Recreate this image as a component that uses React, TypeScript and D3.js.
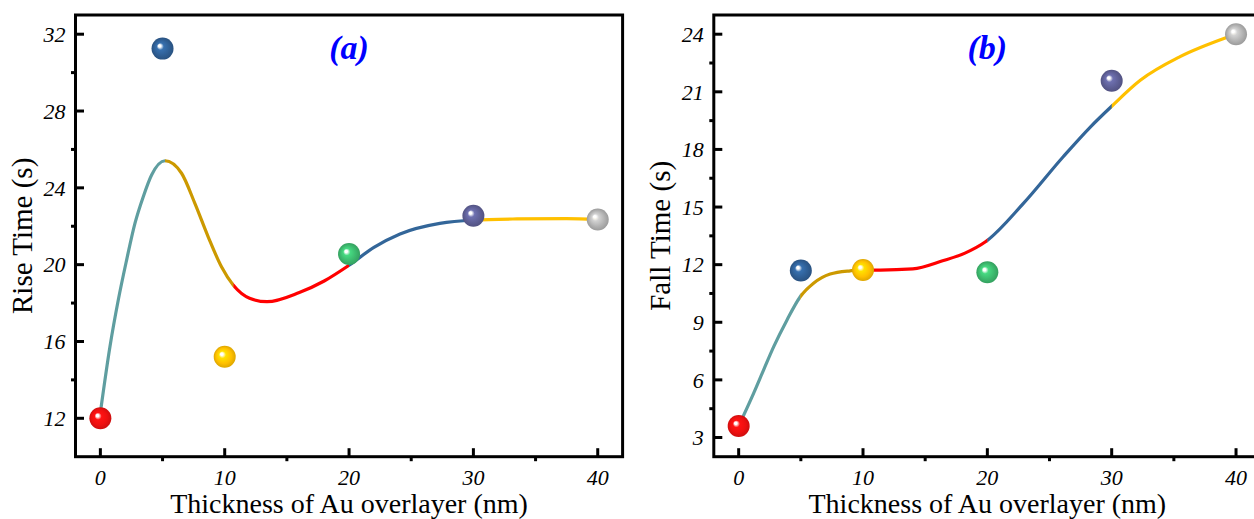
import React from "react";
import * as d3 from "d3";

// ---------- data ----------
const thickness = [0, 5, 10, 20, 30, 40];
const riseTime = [12.0, 31.25, 15.2, 20.55, 22.55, 22.35];
const fallTime = [3.6, 11.7, 11.72, 11.6, 21.58, 24.0];
const ballColors = ["#ee1010", "#2f5f95", "#ffc000", "#3cb96e", "#5e5f96", "#b3b3b3"];

// fitted smooth curves
const riseFitX = [0, 0.77, 1.44, 2.11, 2.78, 3.45, 4.12, 5.2, 6.53, 7.6, 8.67, 9.74, 10.68, 12, 13.4, 16, 18, 20, 22, 24.1, 27.3, 30, 33.5, 37.5, 40];
const riseFitY = [12.3, 15.73, 18.16, 20.24, 22.15, 23.54, 24.67, 25.41, 24.76, 23.19, 21.45, 19.89, 18.94, 18.25, 18.07, 18.55, 19.15, 19.97, 20.9, 21.6, 22.15, 22.32, 22.38, 22.4, 22.36];
const fallFitX = [0, 1.2, 2.0, 2.81, 3.88, 4.95, 6.02, 7.36, 8.97, 9.8, 11.4, 14, 16.4, 18.2, 19.85, 22.9, 26.1, 28.3, 30, 32.3, 35.5, 39.3, 40];
const fallFitY = [3.6, 5.3, 6.51, 7.72, 9.11, 10.33, 11.03, 11.51, 11.68, 11.72, 11.72, 11.78, 12.2, 12.6, 13.19, 15.19, 17.62, 19.18, 20.25, 21.6, 22.83, 23.84, 24.0];

const riseSegBreaks = [0, 5.2, 10.7, 20, 30, 40];
const fallSegBreaks = [0, 4.95, 10, 20, 30, 40];
const segColors = ["#5f9ea0", "#cc9900", "#ff0000", "#336699", "#ffc000"];

const xTicks = [0, 10, 20, 30, 40];
const xMinor = [5, 15, 25, 35];
const riseTicks = [12, 16, 20, 24, 28, 32];
const riseMinor = [14, 18, 22, 26, 30];
const fallTicks = [3, 6, 9, 12, 15, 18, 21, 24];
const fallMinor = [4.5, 7.5, 10.5, 13.5, 16.5, 19.5, 22.5];

const W = 1254;
const H = 519;
const FONT = "Liberation Serif, Times New Roman, serif";

type PanelProps = {
  id: string;
  x0: number;
  x1: number;
  yDomain: [number, number];
  values: number[];
  fitX: number[];
  fitY: number[];
  breaks: number[];
  yTicks: number[];
  yMinor: number[];
  yLabel: string;
  tag: string;
};

function Panel(p: PanelProps) {
  const top = 15;
  const bottom = 456.7;
  const x = d3.scaleLinear().domain([-2, 42]).range([p.x0, p.x1]);
  const y = d3.scaleLinear().domain(p.yDomain).range([bottom, top]);
  const pts: [number, number][] = p.fitX.map((v, i) => [v, p.fitY[i]]);
  const line = d3
    .line<[number, number]>()
    .x((d) => x(d[0]))
    .y((d) => y(d[1]))
    .curve(d3.curveMonotoneX);
  const path = line(pts) || "";
  const left = p.x0;
  const right = p.x1;
  const sw = 3;
  const ballR = 11;
  const nSeg = p.breaks.length - 1;

  return (
    <g>
      <defs>
        {p.breaks.slice(0, -1).map((b, i) => {
          const xa = i === 0 ? x(b) - 20 : x(b);
          const xb = i === nSeg - 1 ? x(p.breaks[i + 1]) + 20 : x(p.breaks[i + 1]) + 0.4;
          return (
            <clipPath id={`${p.id}-clip-${i}`} key={i}>
              <rect x={xa} y={0} width={xb - xa} height={H} />
            </clipPath>
          );
        })}
        {ballColors.map((c, i) => {
          const base = d3.color(c)!;
          return (
            <radialGradient id={`${p.id}-ball-${i}`} key={i} cx="0.5" cy="0.5" r="0.5" fx="0.35" fy="0.36">
              <stop offset="0" stopColor="#ffffff" />
              <stop offset="0.12" stopColor="#ffffff" stopOpacity={0.95} />
              <stop offset="0.32" stopColor={base.brighter(0.45).formatHex()} />
              <stop offset="0.7" stopColor={c} />
              <stop offset="1" stopColor={base.darker(0.4).formatHex()} />
            </radialGradient>
          );
        })}
      </defs>

      {/* curves */}
      {p.breaks.slice(0, -1).map((b, i) => (
        <path
          key={i}
          d={path}
          fill="none"
          stroke={segColors[i]}
          strokeWidth={3.2}
          clipPath={`url(#${p.id}-clip-${i})`}
        />
      ))}

      {/* balls */}
      {thickness.map((t, i) => (
        <circle key={i} cx={x(t)} cy={y(p.values[i])} r={ballR} fill={`url(#${p.id}-ball-${i})`} />
      ))}

      {/* frame */}
      <rect x={left} y={top} width={right - left} height={bottom - top} fill="none" stroke="#000" strokeWidth={sw} />

      {/* x ticks */}
      {xTicks.map((t) => (
        <g key={t}>
          <line x1={x(t)} x2={x(t)} y1={bottom} y2={bottom - 8.5} stroke="#000" strokeWidth={3} />
          <text
            x={x(t)}
            y={485}
            textAnchor="middle"
            fontFamily={FONT}
            fontStyle="italic"
            fontSize={22}
          >
            {t}
          </text>
        </g>
      ))}
      {xMinor.map((t) => (
        <line key={t} x1={x(t)} x2={x(t)} y1={bottom} y2={bottom + 4.5} stroke="#000" strokeWidth={3} />
      ))}

      {/* y ticks */}
      {p.yTicks.map((t) => (
        <g key={t}>
          <line x1={left} x2={left + 8.5} y1={y(t)} y2={y(t)} stroke="#000" strokeWidth={3} />
          <text
            x={left - 10}
            y={y(t)}
            dy="0.35em"
            textAnchor="end"
            fontFamily={FONT}
            fontStyle="italic"
            fontSize={22}
          >
            {t}
          </text>
        </g>
      ))}
      {p.yMinor.map((t) => (
        <line key={t} x1={left} x2={left - 4.5} y1={y(t)} y2={y(t)} stroke="#000" strokeWidth={3} />
      ))}

      {/* axis titles */}
      <text
        x={(left + right) / 2}
        y={512.5}
        textAnchor="middle"
        fontFamily={FONT}
        fontSize={28}
      >
        Thickness of Au overlayer (nm)
      </text>
      <text
        transform={`translate(${left - 44},${(top + bottom) / 2}) rotate(-90)`}
        textAnchor="middle"
        fontFamily={FONT}
        fontSize={29}
      >
        {p.yLabel}
      </text>

      {/* panel tag */}
      <text
        x={x(20)}
        y={59}
        textAnchor="middle"
        fontFamily={FONT}
        fontStyle="italic"
        fontWeight="bold"
        fontSize={34}
        fill="#0000ff"
      >
        {p.tag}
      </text>
    </g>
  );
}

export default function App() {
  return (
    <svg
      width={W}
      height={H}
      viewBox={`0 0 ${W} ${H}`}
      style={{ position: "absolute", left: 0, top: 0, background: "#fff" }}
    >
      <rect x={0} y={0} width={W} height={H} fill="#fff" />
      <Panel
        id="a"
        x0={75.5}
        x1={622.6}
        yDomain={[10, 33]}
        values={riseTime}
        fitX={riseFitX}
        fitY={riseFitY}
        breaks={riseSegBreaks}
        yTicks={riseTicks}
        yMinor={riseMinor}
        yLabel="Rise Time (s)"
        tag="(a)"
      />
      <Panel
        id="b"
        x0={713.8}
        x1={1260.9}
        yDomain={[2, 25]}
        values={fallTime}
        fitX={fallFitX}
        fitY={fallFitY}
        breaks={fallSegBreaks}
        yTicks={fallTicks}
        yMinor={fallMinor}
        yLabel="Fall Time (s)"
        tag="(b)"
      />
    </svg>
  );
}
